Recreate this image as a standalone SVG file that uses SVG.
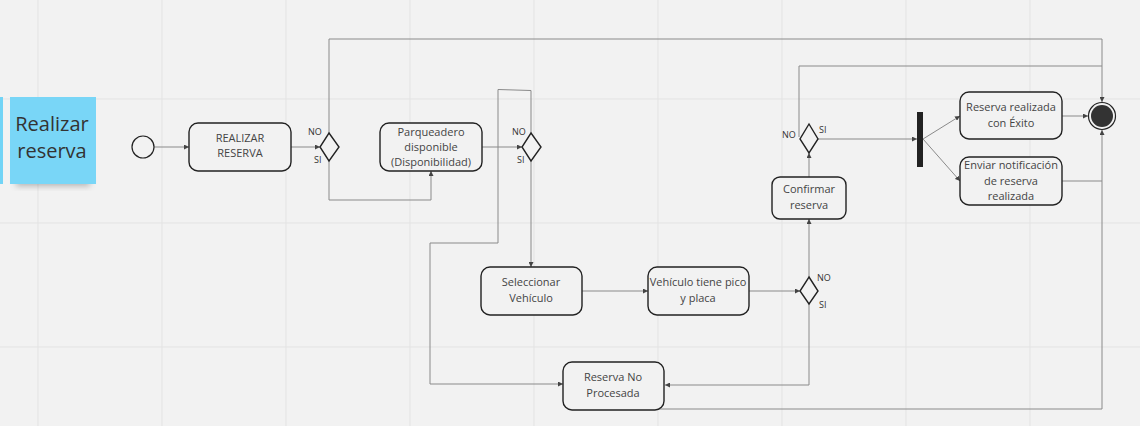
<svg xmlns="http://www.w3.org/2000/svg" width="1140" height="426" viewBox="0 0 1140 426">
<defs>
<style>
.grid{stroke:#e3e3e3;stroke-width:1}
.box{fill:#f2f2f2;stroke:#222;stroke-width:1.4}
.dia{fill:#f2f2f2;stroke:#222;stroke-width:1.4}
.t{font-family:"Open Sans","Liberation Sans",sans-serif;font-size:11px;fill:#444;text-anchor:middle}
.lbl{font-family:"Open Sans","Liberation Sans",sans-serif;font-size:9px;fill:#333}
.c{fill:none;stroke:#8a8a8a;stroke-width:1}
.st{font-family:"Open Sans","Liberation Sans",sans-serif;font-size:20px;fill:#333;text-anchor:middle}
</style>
<marker id="ah" viewBox="0 0 6 6" refX="6" refY="3" markerWidth="5" markerHeight="5" orient="auto" markerUnits="userSpaceOnUse">
<path d="M0,0 L6,3 L0,6 z" fill="#444"/>
</marker>
<filter id="sh" x="-20%" y="-50%" width="140%" height="200%"><feGaussianBlur stdDeviation="3"/></filter>
</defs>
<rect width="1140" height="426" fill="#f2f2f2"/>
<g id="grid">
<path class="grid" d="M38,0V426M162,0V426M286,0V426M410,0V426M534,0V426M658,0V426M782,0V426M906,0V426M1030,0V426M0,99H1140M0,223H1140M0,347H1140"/>
</g>
<g id="sticky">
<rect x="0" y="97" width="3" height="87" fill="#72d4f6"/>
<rect x="16" y="176" width="74" height="10" fill="#666" opacity="0.45" filter="url(#sh)"/>
<rect x="10" y="97" width="86" height="87" fill="#79d6f7"/>
<text class="st" x="52" y="131">Realizar</text>
<text class="st" x="52" y="158">reserva</text>
</g>
<g id="connectors">
<path class="c" d="M154,147H189" marker-end="url(#ah)"/>
<path class="c" d="M291,147H320" marker-end="url(#ah)"/>
<path class="c" d="M329,161V200H431V171" marker-end="url(#ah)"/>
<path class="c" d="M329,133V39H1102V102" marker-end="url(#ah)"/>
<path class="c" d="M482,147H522" marker-end="url(#ah)"/>
<path class="c" d="M531,133V90.5L498,89.5V243H430V384H563" marker-end="url(#ah)"/>
<path class="c" d="M531,161V267" marker-end="url(#ah)"/>
<path class="c" d="M582,291H648" marker-end="url(#ah)"/>
<path class="c" d="M749,291H800" marker-end="url(#ah)"/>
<path class="c" d="M809,277V219" marker-end="url(#ah)"/>
<path class="c" d="M809,304V385H665" marker-end="url(#ah)"/>
<path class="c" d="M809,177V153" marker-end="url(#ah)"/>
<path class="c" d="M818,139H917" marker-end="url(#ah)"/>
<path class="c" d="M799,137V66H1102"/>
<path class="c" d="M923,139L960,116" marker-end="url(#ah)"/>
<path class="c" d="M923,139L960,181" marker-end="url(#ah)"/>
<path class="c" d="M1062,116H1088" marker-end="url(#ah)"/>
<path class="c" d="M1062,181H1102"/>
<path class="c" d="M612,409H1102V130" marker-end="url(#ah)"/>
</g>
<g id="start"><circle cx="143" cy="147" r="11" fill="#f2f2f2" stroke="#222" stroke-width="1.2"/></g>
<g id="realizar">
<rect class="box" x="189" y="123" width="102" height="48" rx="9"/>
<text class="t" x="240" y="142">REALIZAR</text>
<text class="t" x="240" y="157">RESERVA</text>
</g>
<g id="d1">
<polygon class="dia" points="329,133 339,147 329,161 320,147"/>
<text class="lbl" x="308" y="135">NO</text>
<text class="lbl" x="314" y="163">SI</text>
</g>
<g id="parqueadero">
<rect class="box" x="380" y="123" width="102" height="48" rx="9"/>
<text class="t" x="431" y="136">Parqueadero</text>
<text class="t" x="431" y="151">disponible</text>
<text class="t" x="431" y="166">(Disponibilidad)</text>
</g>
<g id="d2">
<polygon class="dia" points="531,133 541,147 531,161 522,147"/>
<text class="lbl" x="512" y="135">NO</text>
<text class="lbl" x="517" y="163">SI</text>
</g>
<g id="seleccionar">
<rect class="box" x="481" y="267" width="101" height="48" rx="9"/>
<text class="t" x="531" y="286">Seleccionar</text>
<text class="t" x="531" y="302">Vehículo</text>
</g>
<g id="vehiculo">
<rect class="box" x="648" y="267" width="101" height="48" rx="9"/>
<text class="t" x="698" y="286">Vehículo tiene pico</text>
<text class="t" x="698" y="302">y placa</text>
</g>
<g id="d3">
<polygon class="dia" points="809,277 818,291 809,304 800,291"/>
<text class="lbl" x="817" y="281">NO</text>
<text class="lbl" x="819" y="308">SI</text>
</g>
<g id="noprocesada">
<rect class="box" x="563" y="362" width="101" height="48" rx="9"/>
<text class="t" x="613" y="381">Reserva No</text>
<text class="t" x="613" y="397">Procesada</text>
</g>
<g id="confirmar">
<rect class="box" x="772" y="177" width="74" height="42" rx="8"/>
<text class="t" x="809" y="193">Confirmar</text>
<text class="t" x="809" y="209">reserva</text>
</g>
<g id="d4">
<polygon class="dia" points="809,124 818,139 809,153 800,139"/>
<text class="lbl" x="782" y="138">NO</text>
<text class="lbl" x="819" y="133">SI</text>
</g>
<g id="fork"><rect x="917" y="112" width="6" height="55" fill="#222"/></g>
<g id="exito">
<rect class="box" x="960" y="92" width="102" height="47" rx="9"/>
<text class="t" x="1011" y="111">Reserva realizada</text>
<text class="t" x="1011" y="127">con Éxito</text>
</g>
<g id="enviar">
<rect class="box" x="960" y="157" width="102" height="48" rx="9"/>
<text class="t" x="1011" y="169">Enviar notificación</text>
<text class="t" x="1011" y="185">de reserva</text>
<text class="t" x="1011" y="200">realizada</text>
</g>
<g id="final">
<circle cx="1102" cy="116" r="13.5" fill="#f2f2f2" stroke="#222" stroke-width="1.2"/>
<circle cx="1102" cy="116" r="11" fill="#333"/>
</g>
</svg>
